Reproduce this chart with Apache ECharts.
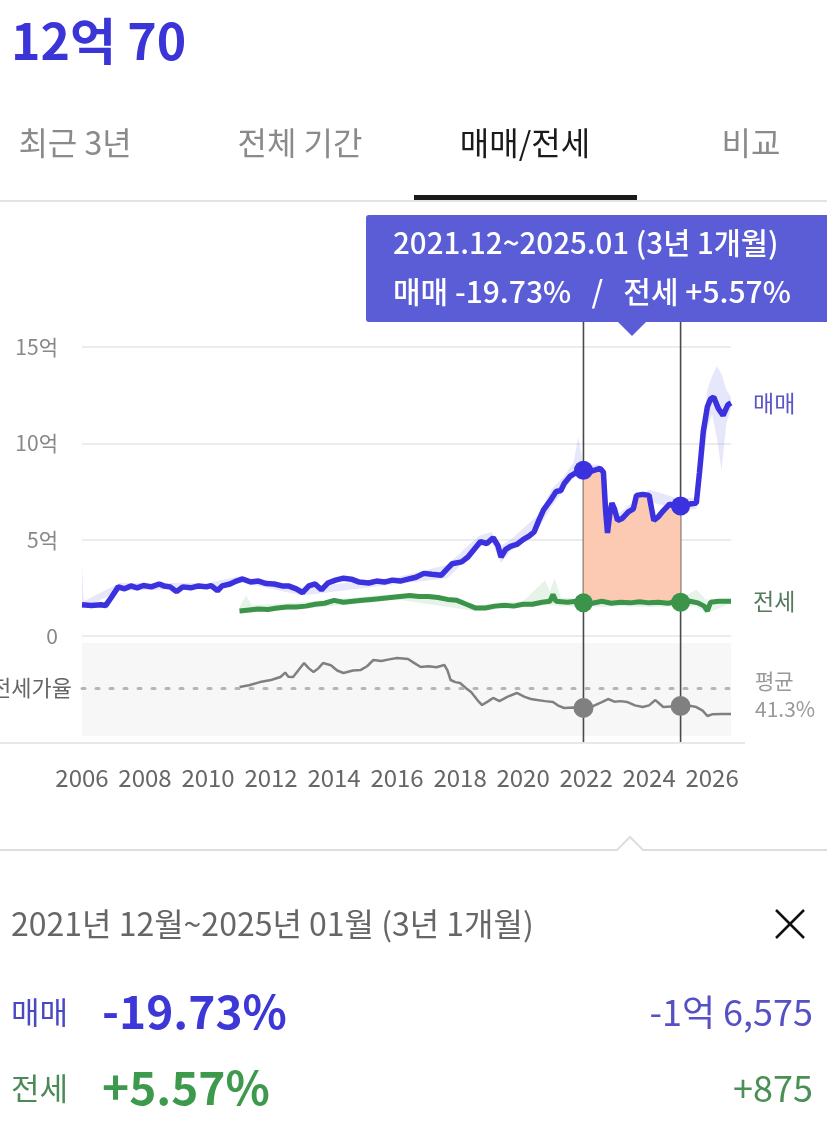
<!DOCTYPE html>
<html><head><meta charset="utf-8">
<script src="https://cdn.jsdelivr.net/npm/echarts/dist/echarts.min.js"></script>
<style>
html,body{margin:0;padding:0;background:#fff;width:827px;height:1123px;overflow:hidden;}
#chart{position:absolute;left:0;top:0;width:827px;height:1123px;}
</style></head><body>
<div id="chart"></div>
<script>
// ---------- DATA ----------
const saleYears = [2006.00,2006.30,2006.60,2006.75,2006.95,2007.15,2007.35,2007.55,2007.75,2007.95,2008.20,2008.45,2008.60,2008.80,2009.00,2009.20,2009.45,2009.70,2009.95,2010.10,2010.30,2010.45,2010.70,2010.90,2011.10,2011.35,2011.60,2011.85,2012.10,2012.35,2012.55,2012.80,2013.00,2013.20,2013.40,2013.60,2013.80,2014.05,2014.30,2014.55,2014.80,2015.10,2015.35,2015.60,2015.85,2016.10,2016.35,2016.60,2016.85,2017.10,2017.40,2017.60,2017.75,2018.05,2018.25,2018.45,2018.65,2018.85,2019.05,2019.20,2019.30,2019.45,2019.60,2019.80,2020.00,2020.20,2020.35,2020.50,2020.65,2020.85,2021.05,2021.20,2021.30,2021.50,2021.70,2021.917,2022.15,2022.45,2022.55,2022.62,2022.68,2022.75,2022.82,2022.90,2023.00,2023.15,2023.35,2023.50,2023.60,2023.80,2024.00,2024.08,2024.15,2024.30,2024.45,2024.65,2024.85,2025.00,2025.30,2025.50,2025.60,2025.72,2025.85,2025.95,2026.05,2026.20,2026.35,2026.50,2026.60];
const saleValues = [1.62,1.58,1.62,1.58,2.05,2.55,2.45,2.60,2.50,2.62,2.55,2.70,2.60,2.55,2.30,2.55,2.50,2.60,2.55,2.62,2.35,2.60,2.70,2.85,2.96,2.80,2.85,2.72,2.70,2.60,2.60,2.45,2.25,2.60,2.70,2.40,2.75,2.90,3.00,2.95,2.80,2.75,2.85,2.80,2.90,2.85,2.95,3.05,3.25,3.20,3.15,3.50,3.75,3.85,4.10,4.50,4.90,4.80,5.10,4.70,4.10,4.50,4.65,4.75,5.00,5.20,5.40,6.00,6.55,7.00,7.50,7.55,7.90,8.30,8.50,8.60,8.55,8.70,8.50,6.50,5.35,6.30,6.90,6.60,6.00,6.10,6.45,6.60,7.30,7.35,7.30,6.60,6.00,6.20,6.50,6.85,6.70,6.75,6.85,6.90,8.50,10.60,11.90,12.30,12.40,11.80,11.45,12.00,12.10];

const saleBandYears = [2006.0,2006.05,2007.2,2010.0,2011.0,2013.0,2016.0,2017.6,2018.6,2019.0,2019.3,2019.6,2020.5,2020.9,2021.3,2021.6,2021.75,2021.92,2022.4,2022.7,2023.0,2024.0,2025.0,2025.5,2025.65,2025.85,2026.0,2026.15,2026.3,2026.45,2026.6];
const saleBandHigh = [3.7,1.8,2.75,2.75,3.1,2.5,3.05,3.7,5.2,5.4,4.7,5.0,6.3,7.6,8.3,9.0,10.3,8.9,8.9,6.8,6.3,7.6,7.1,7.2,9.5,12.8,13.5,14.0,13.6,12.8,12.4];
const saleBandLow  = [1.45,1.45,2.35,2.45,2.8,2.1,2.7,3.0,4.6,4.9,3.8,4.4,5.6,6.7,7.6,8.2,8.4,8.4,8.5,5.1,5.7,7.0,6.5,6.6,8.0,10.8,11.5,10.3,8.6,11.0,11.8];

const jeonseYears = [2011.0,2011.3,2011.6,2011.9,2012.2,2012.5,2012.8,2013.1,2013.4,2013.7,2014.0,2014.3,2014.6,2014.9,2015.2,2015.5,2015.8,2016.1,2016.4,2016.7,2017.0,2017.3,2017.6,2017.9,2018.2,2018.5,2018.8,2019.1,2019.4,2019.7,2020.0,2020.3,2020.6,2020.85,2020.95,2021.05,2021.4,2021.7,2021.917,2022.2,2022.5,2022.8,2023.1,2023.4,2023.7,2024.0,2024.3,2024.6,2024.85,2025.0,2025.3,2025.55,2025.75,2025.85,2025.95,2026.2,2026.6];
const jeonseValues = [1.30,1.35,1.40,1.38,1.45,1.50,1.50,1.55,1.65,1.70,1.85,1.75,1.80,1.85,1.90,1.95,2.00,2.05,2.10,2.05,2.05,2.00,1.90,1.85,1.65,1.45,1.45,1.55,1.60,1.55,1.65,1.65,1.75,1.80,2.15,1.80,1.75,1.80,1.72,1.70,1.80,1.70,1.75,1.72,1.78,1.72,1.75,1.70,1.78,1.75,1.80,1.72,1.55,1.30,1.75,1.80,1.80];

const jeonseBandYears = [2011.0,2011.2,2011.4,2013.0,2016.0,2018.5,2020.0,2020.7,2020.85,2021.0,2021.2,2022.0,2022.5,2023.0,2024.0,2025.0,2025.5,2025.8,2026.6];
const jeonseBandHigh = [1.5,2.1,1.6,1.75,2.2,1.6,1.8,2.9,2.3,3.0,2.0,1.9,2.5,1.95,2.1,1.95,2.4,1.9,1.9];
const jeonseBandLow  = [1.15,1.2,1.25,1.4,1.9,1.3,1.5,1.6,1.6,1.6,1.55,1.55,1.5,1.55,1.5,1.55,1.55,1.15,1.7];

const ratioYears = [2011.0,2011.3,2011.65,2012.0,2012.3,2012.45,2012.55,2012.7,2013.05,2013.2,2013.35,2013.5,2013.65,2013.9,2014.1,2014.3,2014.6,2014.85,2015.05,2015.25,2015.5,2015.75,2016.0,2016.35,2016.55,2016.75,2017.0,2017.25,2017.5,2017.6,2017.7,2017.85,2018.0,2018.2,2018.35,2018.55,2018.7,2018.9,2019.05,2019.25,2019.5,2019.8,2020.05,2020.25,2020.45,2020.7,2020.95,2021.1,2021.3,2021.6,2021.917,2022.2,2022.5,2022.7,2022.9,2023.1,2023.3,2023.55,2023.8,2024.0,2024.2,2024.35,2024.45,2024.7,2025.0,2025.2,2025.5,2025.7,2025.85,2026.0,2026.3,2026.6];
const ratioValues = [42.4,44,47,49,51.8,56,52,51.8,65,60,56.5,60,65,63,58,55.6,58,58.5,62,68,67,68.5,69.8,68.8,65,61.3,62,61,63.2,58,49,47,46.1,41,37.6,30,25.3,29,32,29,33,36.7,33,31,30,29,28.2,25,22.5,23,22.5,24,28,31,28.5,29,28.2,25,23.4,25,30,26,23.4,24,24.4,25,23.4,20,14.9,16.5,16.8,16.8];
const ratioMean = 41.3;

const yTicks = [0, 5, 10, 15];
const xTickYears = [2006,2008,2010,2012,2014,2016,2018,2020,2022,2024,2026];
const rangeStartYear = 2021.917, rangeEndYear = 2025.0;
const rangeLabel = '2021.12~2025.01 (3년 1개월)';
const rangeChange = '매매 -19.73%   /   전세 +5.57%';
const headline = '12억 70';
const tabs = ['최근 3년','전체 기간','매매/전세','비교'];
const panelDate = '2021년 12월~2025년 01월 (3년 1개월)';
const saleChange = '-19.73%', saleDiff = '-1억 6,575';
const jeonseChange = '+5.57%', jeonseDiff = '+875';

// ---------- HELPERS ----------
const FONT = '"Noto Sans CJK KR","Noto Sans",sans-serif';
const SALE = '#3b31df', JEONSE = '#3b9449', RATIO = '#808080';
function zip(xs, ys){ return xs.map((x,i)=>[x, ys[i]]); }
function valueAt(xs, ys, x){ const i = xs.indexOf(x); return ys[i]; }
function bandSeries(xs, lo, hi, color, z){
  return {type:'custom', xAxisIndex:0, yAxisIndex:0, silent:true, z:z, clip:false,
    data:[[2016, 5]],
    renderItem:function(params, api){
      const pts=[];
      for(let i=0;i<xs.length;i++) pts.push(api.coord([xs[i], hi[i]]));
      for(let i=xs.length-1;i>=0;i--) pts.push(api.coord([xs[i], lo[i]]));
      return {type:'polygon', shape:{points:pts}, style:{fill:color}};
    }};
}
function rangeFillSeries(){
  return {type:'custom', xAxisIndex:0, yAxisIndex:0, silent:true, z:1, clip:false,
    data:[[2023, 4]],
    renderItem:function(params, api){
      const pts=[];
      for(let i=0;i<saleYears.length;i++){ const x=saleYears[i]; if(x>=rangeStartYear && x<=rangeEndYear) pts.push(api.coord([x, saleValues[i]])); }
      for(let i=jeonseYears.length-1;i>=0;i--){ const x=jeonseYears[i]; if(x>=rangeStartYear && x<=rangeEndYear) pts.push(api.coord([x, jeonseValues[i]])); }
      return {type:'polygon', shape:{points:pts}, style:{fill:'#fcc9b3'}};
    }};
}
function T(text,x,y,size,color,weight,align){
  return {type:'text', x:x, y:y, z:100, silent:true,
    style:{text:text, fontSize:size, fontWeight:weight||'normal', fontFamily:FONT, fill:color, align:align||'left', verticalAlign:'middle'}};
}

// ---------- CHART ----------
const chart = echarts.init(document.getElementById('chart'));
const xAxisBase = {type:'value', min:2006, max:2026.6, interval:2};
chart.setOption({
  animation:false,
  grid:[
    {left:82, right:96, top:347, bottom:487},
    {left:82, right:96, top:643, height:93, show:true, backgroundColor:'#f7f7f7', borderWidth:0}
  ],
  xAxis:[
    Object.assign({gridIndex:0, show:false, splitLine:{show:false}}, xAxisBase),
    Object.assign({gridIndex:1, axisLine:{show:false}, axisTick:{show:false}, splitLine:{show:false},
      axisLabel:{margin:30, fontSize:24, color:'#666', fontFamily:FONT, showMaxLabel:false, showMinLabel:true,
        formatter:function(v){ return xTickYears.indexOf(v)>=0 ? String(v) : ''; }}}, xAxisBase)
  ],
  yAxis:[
    {type:'value', gridIndex:0, min:yTicks[0], max:yTicks[yTicks.length-1], interval:5,
      axisLine:{show:false}, axisTick:{show:false},
      splitLine:{lineStyle:{color:'#e6e6e6', width:1.5}},
      axisLabel:{margin:24, fontSize:21, color:'#888', fontFamily:FONT,
        formatter:function(v){ return v===0 ? '0' : v+'억'; }}},
    {type:'value', gridIndex:1, min:-4, max:84, show:false, splitLine:{show:false}}
  ],
  series:[
    bandSeries(saleBandYears, saleBandLow, saleBandHigh, 'rgba(120,120,240,0.18)', 1),
    bandSeries(jeonseBandYears, jeonseBandLow, jeonseBandHigh, 'rgba(80,170,90,0.14)', 1),
    rangeFillSeries(),
    {name:'매매', type:'line', xAxisIndex:0, yAxisIndex:0, data:zip(saleYears, saleValues), showSymbol:false, z:4,
      lineStyle:{color:SALE, width:5.5}, itemStyle:{color:SALE}, silent:true,
      endLabel:{show:true, formatter:'매매', color:'#5b55c8', fontSize:23, fontFamily:FONT, distance:22}},
    {name:'전세', type:'line', xAxisIndex:0, yAxisIndex:0, data:zip(jeonseYears, jeonseValues), showSymbol:false, z:4,
      lineStyle:{color:JEONSE, width:5}, itemStyle:{color:JEONSE}, silent:true,
      endLabel:{show:true, formatter:'전세', color:'#557a5c', fontSize:23, fontFamily:FONT, distance:22}},
    {name:'전세가율', type:'line', xAxisIndex:1, yAxisIndex:1, data:zip(ratioYears, ratioValues), showSymbol:false, z:4,
      lineStyle:{color:RATIO, width:2.5}, silent:true,
      markLine:{silent:true, symbol:'none', lineStyle:{type:[3,11], color:'#b5b5b5', width:3, cap:'round'},
        data:[{yAxis:ratioMean}],
        label:{position:'end', distance:24,
          formatter:'{s| }\n{a|평균}\n{a|'+ratioMean+'%}',
          rich:{s:{lineHeight:14, fontSize:10}, a:{lineHeight:28, fontSize:21, color:'#999', fontFamily:FONT}}}}},
    {type:'scatter', xAxisIndex:0, yAxisIndex:0, z:6, silent:true, symbolSize:19, itemStyle:{color:SALE, opacity:1},
      data:[[rangeStartYear, valueAt(saleYears, saleValues, rangeStartYear)],[rangeEndYear, valueAt(saleYears, saleValues, rangeEndYear)]]},
    {type:'scatter', xAxisIndex:0, yAxisIndex:0, z:6, silent:true, symbolSize:19, itemStyle:{color:JEONSE, opacity:1},
      data:[[rangeStartYear, valueAt(jeonseYears, jeonseValues, rangeStartYear)],[rangeEndYear, valueAt(jeonseYears, jeonseValues, rangeEndYear)]]},
    {type:'scatter', xAxisIndex:1, yAxisIndex:1, z:6, silent:true, symbolSize:20, itemStyle:{color:RATIO, opacity:1},
      data:[[rangeStartYear, valueAt(ratioYears, ratioValues, rangeStartYear)],[rangeEndYear, valueAt(ratioYears, ratioValues, rangeEndYear)]]}
  ]
});

const px1 = chart.convertToPixel({xAxisIndex:0}, rangeStartYear);
const px2 = chart.convertToPixel({xAxisIndex:0}, rangeEndYear);
const mid = (px1+px2)/2;
const tabX = [75, 300, 525, 751];
const g = [
  T(headline, 11, 41, 50, '#3b35d8', 'bold'),
  T(tabs[0], tabX[0], 143, 32, '#8a8a8a', 'normal', 'center'),
  T(tabs[1], tabX[1], 143, 32, '#8a8a8a', 'normal', 'center'),
  T(tabs[2], tabX[2], 143, 32, '#1a1a1a', 'normal', 'center'),
  T(tabs[3], tabX[3], 143, 32, '#8a8a8a', 'normal', 'center'),
  {type:'line', shape:{x1:0,y1:201,x2:827,y2:201}, style:{stroke:'#e3e3e3', lineWidth:2}},
  {type:'rect', shape:{x:414,y:195,width:223,height:5}, style:{fill:'#1a1a1a'}},
  {type:'line', shape:{x1:px1,y1:322,x2:px1,y2:742}, style:{stroke:'#4a4a4a', lineWidth:1.6}},
  {type:'line', shape:{x1:px2,y1:322,x2:px2,y2:742}, style:{stroke:'#4a4a4a', lineWidth:1.6}},
  {type:'rect', shape:{x:366,y:215,width:470,height:107,r:3}, style:{fill:'#5a5dd6'}, z:50},
  {type:'polygon', shape:{points:[[mid-15,321],[mid+15,321],[mid,336]]}, style:{fill:'#5a5dd6'}, z:50},
  T(rangeLabel, 393, 243, 29.5, '#fff', 500),
  T(rangeChange, 393, 292, 30, '#fff', 500),
  T('전세가율', 72, 688, 22, '#666', 'normal', 'right'),
  {type:'line', shape:{x1:0,y1:743,x2:745,y2:743}, style:{stroke:'#e8e8e8', lineWidth:2}},
  {type:'polyline', shape:{points:[[0,850],[617,850],[630,837],[643,850],[827,850]]}, style:{stroke:'#dedede', lineWidth:2, fill:null}},
  T(panelDate, 11, 924, 32, '#666'),
  {type:'line', shape:{x1:776,y1:910,x2:804,y2:938}, style:{stroke:'#111', lineWidth:2.5}},
  {type:'line', shape:{x1:804,y1:910,x2:776,y2:938}, style:{stroke:'#111', lineWidth:2.5}},
  T('매매', 11, 1012, 31, '#4b48c6'),
  T(saleChange, 102, 1012, 46, '#3c37d6', 'bold'),
  T(saleDiff, 813, 1012, 36, '#5551c4', 'normal', 'right'),
  T('전세', 11, 1088, 31, '#4b8a57'),
  T(jeonseChange, 102, 1088, 46, '#3d9a4c', 'bold'),
  T(jeonseDiff, 813, 1088, 36, '#4a9055', 'normal', 'right')
];
chart.setOption({graphic: g});
</script>
</body></html>
